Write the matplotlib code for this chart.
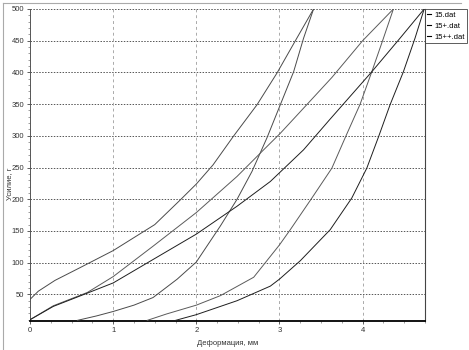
import matplotlib
matplotlib.use("Agg")
import matplotlib.pyplot as plt
from matplotlib.ticker import MultipleLocator
from matplotlib.lines import Line2D

# ---- data ----
labels = ["15.dat", "15+.dat", "15++.dat"]

s15_a_x = [0, 0.1, 0.3, 0.6, 1.0, 1.5, 1.8, 2.0, 2.2, 2.45, 2.73, 2.97, 3.2, 3.41]
s15_a_y = [42, 55, 72, 92, 119, 160, 198, 224, 254, 300, 349, 399, 452, 500]
s15_b_x = [0.57, 0.8, 1.0, 1.25, 1.48, 1.77, 2.0, 2.29, 2.49, 2.67, 2.85, 3.01, 3.17, 3.29, 3.41]
s15_b_y = [9, 16, 23, 33, 45, 74, 101, 158, 200, 244, 297, 349, 401, 454, 500]

s15p_a_x = [0, 0.28, 0.69, 1.0, 1.48, 2.0, 2.49, 2.81, 3.01, 3.25, 3.63, 4.0, 4.37]
s15p_a_y = [10, 32, 53, 78, 126, 179, 236, 278, 304, 338, 392, 450, 500]
s15p_b_x = [1.41, 1.64, 2.0, 2.29, 2.69, 3.0, 3.13, 3.39, 3.63, 3.8, 3.97, 4.11, 4.24, 4.37]
s15p_b_y = [9, 19, 33, 48, 77, 128, 152, 202, 249, 300, 350, 401, 450, 500]

s15pp_a_x = [0, 0.28, 0.69, 1.0, 1.48, 2.0, 2.49, 2.89, 3.29, 3.6, 4.11, 4.45, 4.74]
s15pp_a_y = [10, 31, 52, 68, 105, 145, 189, 228, 278, 325, 401, 454, 500]
s15pp_b_x = [1.75, 2.0, 2.49, 2.89, 3.0, 3.25, 3.61, 3.87, 4.05, 4.19, 4.33, 4.49, 4.63, 4.74]
s15pp_b_y = [9, 18, 40, 63, 74, 103, 152, 202, 249, 298, 349, 401, 454, 500]

x_ticks = [0, 1, 2, 3, 4]
y_ticks = [50, 100, 150, 200, 250, 300, 350, 400, 450, 500]

plt.rcParams['font.family'] = ['Liberation Sans', 'DejaVu Sans']

W, H = 469, 350
fig = plt.figure(figsize=(W / 100, H / 100), dpi=100)
ax = fig.add_axes([30 / W, 1 - 321 / H, (425 - 30) / W, (321 - 9) / H])

series = [
    (s15_a_x, s15_a_y, s15_b_x, s15_b_y, '#4a4a4a'),
    (s15p_a_x, s15p_a_y, s15p_b_x, s15p_b_y, '#5a5a5a'),
    (s15pp_a_x, s15pp_a_y, s15pp_b_x, s15pp_b_y, '#1e1e1e'),
]
for ax_, ay_, bx_, by_, c in series:
    ax.plot(ax_, ay_, color=c, lw=0.7, zorder=3)
    ax.plot(bx_, by_, color=c, lw=0.7, zorder=3)

ax.set_xlim(0, 4.75)
ax.set_ylim(8, 500)
ax.set_xticks(x_ticks)
ax.set_yticks(y_ticks)
ax.xaxis.set_minor_locator(MultipleLocator(0.25))
ax.yaxis.set_minor_locator(MultipleLocator(10))

ax.tick_params(axis='both', which='major', length=2.5, width=0.6, color='#444444',
               labelsize=5.5, labelcolor='#333333', pad=1.5)
ax.tick_params(axis='both', which='minor', length=1.5, width=0.5, color='#777777')

for y in y_ticks:
    ax.axhline(y, color='#555555', lw=0.7, ls=(0, (1.5, 1.5)), zorder=1)
for x in x_ticks[1:]:
    ax.axvline(x, color='#aaaaaa', lw=0.7, ls=(0, (3, 3)), zorder=1)

ax.spines['top'].set_visible(False)
ax.spines['bottom'].set_color('black')
ax.spines['bottom'].set_linewidth(1.3)
ax.spines['left'].set_color('#555555')
ax.spines['left'].set_linewidth(0.7)
ax.spines['right'].set_color('#444444')
ax.spines['right'].set_linewidth(0.8)

ax.set_xlabel("Деформация, мм", fontsize=5.5, color='#333333')
ax.xaxis.set_label_coords(0.5, -0.06)
ax.set_ylabel("Усилие, г", fontsize=5.5, color='#333333')
ax.yaxis.set_label_coords(-0.042, 0.44)

handles = [Line2D([0], [0], color='black', lw=0.8) for _ in labels]
leg = ax.legend(handles, labels, loc='upper left', bbox_to_anchor=(1.0, 1.0),
                fontsize=5.5, frameon=True, fancybox=False, handlelength=0.5,
                handletextpad=0.4, borderpad=0.3, labelspacing=0.5,
                borderaxespad=0.0)
leg.get_frame().set_edgecolor('#333333')
leg.get_frame().set_linewidth(0.7)

# outer panel border (left and top)
fig.add_artist(Line2D([3 / W, 3 / W], [0, 1 - 2.5 / H], transform=fig.transFigure,
                      color='#aaaaaa', lw=0.8))
fig.add_artist(Line2D([3 / W, 461 / W], [1 - 2.5 / H, 1 - 2.5 / H], transform=fig.transFigure,
                      color='#aaaaaa', lw=0.8))

fig.savefig("out.png", dpi=100)
